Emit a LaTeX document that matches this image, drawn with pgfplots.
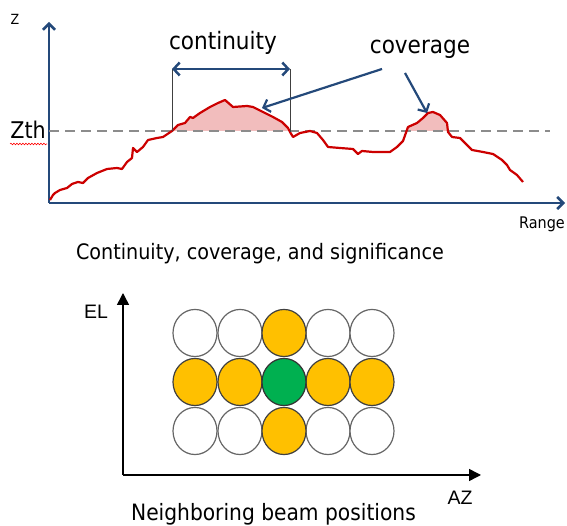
\documentclass[border=0pt]{standalone}
\usepackage{fontspec}
\setmainfont{DejaVu Sans Condensed}
\newfontfamily\arialfont{Liberation Sans}
\usepackage{pgfplots}
\pgfplotsset{compat=1.18}
\usetikzlibrary{arrows.meta,decorations.pathmorphing}

\definecolor{navy}{HTML}{24497A}
\definecolor{curvered}{HTML}{CC0000}
\definecolor{pinkfill}{HTML}{F2BDBD}
\definecolor{beamorange}{HTML}{FFC000}
\definecolor{beamgreen}{HTML}{00B050}
\definecolor{dashgray}{HTML}{8C8C8C}

\begin{document}
\begin{tikzpicture}
\path[use as bounding box] (0pt,0pt) rectangle (567pt,526pt);

% top panel: range profile against threshold
\begin{axis}[
    at={(49pt,323pt)}, anchor=south west,
    scale only axis, width=516pt, height=181pt,
    xmin=49, xmax=565, ymin=323, ymax=504,
    axis lines*=left,
    axis line style={navy, line width=2.5pt, -{Straight Barb[length=6pt,width=12pt]}},
    xtick=\empty, ytick=\empty,
    clip=false,
]
% shaded parts above the threshold
\addplot[draw=none, fill=pinkfill] coordinates {
    (172,395) (178,401) (185,403) (190,409) (193,408) (200,413) (210,419)
    (218,423) (225,426) (233,419) (247,420) (253,419) (263,414) (273,409)
    (282,404) (288,398) (290,395)
} -- cycle;
\addplot[draw=none, fill=pinkfill] coordinates {
    (407,395) (408,399) (417,403) (423,408) (428,413) (433,414) (440,411)
    (447,403) (448,395)
} -- cycle;
\addplot[dashgray, line width=2pt, dash pattern=on 10pt off 6pt]
    coordinates {(49,395) (550,395)};
\addplot[curvered, line width=2.2pt, line join=round] coordinates {
    (50,326) (53,331) (55,333) (60,336) (67,338) (72,342) (78,344) (83,343)
    (88,348) (97,353) (107,357) (117,358) (122,357) (127,364) (132,368)
    (133,378) (137,374) (143,379) (148,386) (157,388) (163,389) (172,395)
    (178,401) (185,403) (190,409) (193,408) (200,413) (210,419) (218,423)
    (225,426) (233,419) (247,420) (253,419) (263,414) (273,409) (282,404)
    (288,398) (290,394) (293,389) (300,393) (310,395) (317,393) (323,386)
    (328,379) (340,378) (353,377) (358,372) (362,375) (373,374) (390,374)
    (397,379) (403,385) (408,399) (417,403) (423,408) (428,413) (433,414)
    (440,411) (447,403) (448,394) (452,389) (460,388) (465,383) (472,376)
    (483,374) (493,372) (502,366) (507,361) (510,356) (517,351) (523,344)
};

% continuity bracket and coverage arrows
\draw[darkgray, line width=1pt] (axis cs:172,457) -- (axis cs:172,395);
\draw[darkgray, line width=1pt] (axis cs:290,457) -- (axis cs:290,394);
\draw[navy, line width=2.5pt,
      {Straight Barb[length=6pt,width=13pt]}-{Straight Barb[length=6pt,width=13pt]}]
    (axis cs:172,457) -- (axis cs:290,457);
\draw[navy, line width=2.2pt, -{Straight Barb[length=6pt,width=13pt]}]
    (axis cs:382,457) -- (axis cs:262,418);
\draw[navy, line width=2.2pt, -{Straight Barb[length=6pt,width=13pt]}]
    (axis cs:405,453) -- (axis cs:427,413);

\node[anchor=base, font=\fontsize{24}{24}\selectfont] at (axis cs:223,476) {continuity};
\node[anchor=base, font=\fontsize{24}{24}\selectfont] at (axis cs:420,472) {coverage};
\node[anchor=base, font=\fontsize{14}{14}\selectfont] at (axis cs:15,501) {Z};
\node[anchor=base east, inner sep=0pt, font=\fontsize{23}{23}\selectfont] at (axis cs:46,387) {Zth};
\draw[red, line width=0.6pt, decorate, decoration={snake, amplitude=0.8pt, segment length=3pt}]
    (axis cs:10,382) -- (axis cs:47,382);
\node[anchor=base, font=\fontsize{16}{16}\selectfont] at (axis cs:542,297) {Range};
\node[anchor=base, font=\fontsize{21.3}{21.3}\selectfont] at (axis cs:260,266)
    {Continuity, coverage, and significance};
\end{axis}

% bottom panel: beam grid
\begin{axis}[
    at={(123pt,51pt)}, anchor=south west,
    scale only axis, width=358pt, height=182pt,
    xmin=123, xmax=481, ymin=51, ymax=233,
    axis lines*=left,
    axis line style={black, line width=1.5pt, -{Triangle[length=12pt,width=12pt]}},
    xtick=\empty, ytick=\empty,
    clip=false,
]
\addplot[only marks, mark=*, mark size=22pt,
    mark options={fill=white, draw=gray!80!black, line width=1.2pt, yscale=1.07}]
    coordinates {(195,193) (240,193) (328,193) (372,193)
                 (195,95) (240,95) (328,95) (372,95)};
\addplot[only marks, mark=*, mark size=22pt,
    mark options={fill=beamorange, draw=black!75, line width=1.2pt, yscale=1.07}]
    coordinates {(284,193) (195,144) (240,144) (328,144) (372,144) (284,95)};
\addplot[only marks, mark=*, mark size=22pt,
    mark options={fill=beamgreen, draw=black!80, line width=1.2pt, yscale=1.07}]
    coordinates {(284,144)};

\node[anchor=base, font=\arialfont\fontsize{19.5}{19.5}\selectfont] at (axis cs:96,207) {EL};
\node[anchor=base, font=\arialfont\fontsize{19.5}{19.5}\selectfont] at (axis cs:460,21) {AZ};
\node[anchor=base, font=\fontsize{22.5}{22.5}\selectfont] at (axis cs:273.5,5)
    {Neighboring beam positions};
\end{axis}
\end{tikzpicture}
\end{document}
